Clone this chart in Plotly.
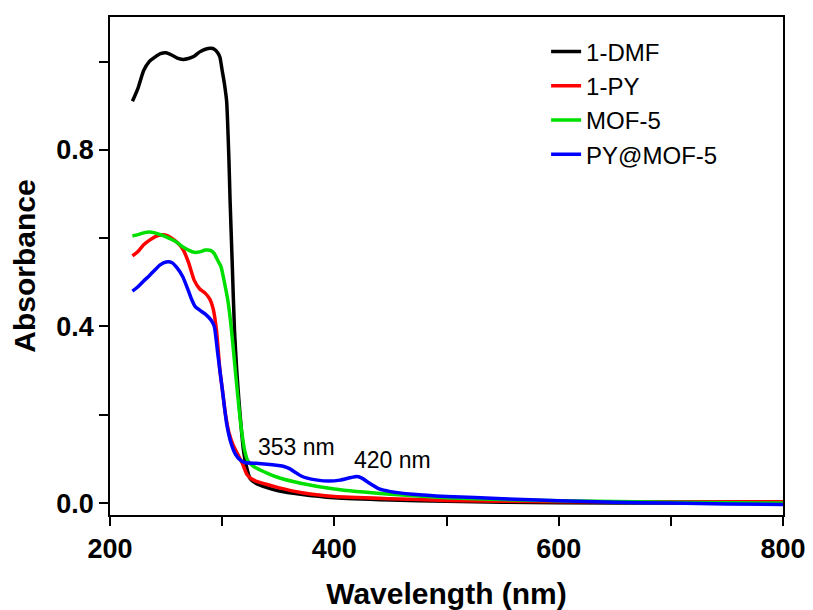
import plotly.graph_objects as go

# ---- data ----
wl_dmf = [220,225,230,235,240,245,250,255,260,265,270,275,280,285,290,293,296,298,300,302,304,306,307,309,311,313,315,317,319,321,325,330,340,350,370,400,450,500,550,600,700,800]
abs_dmf = [0.91,0.94,0.98,1.0,1.01,1.018,1.02,1.015,1.008,1.005,1.007,1.012,1.022,1.028,1.03,1.028,1.02,1.01,0.98,0.95,0.91,0.78,0.69,0.54,0.39,0.30,0.23,0.17,0.12,0.09,0.055,0.045,0.035,0.028,0.02,0.012,0.007,0.004,0.002,0.001,0.0,0.0]

wl_py = [220,225,230,235,240,245,250,255,260,265,270,275,280,285,289,292,295,298,300,303,306,310,314,318,322,326,330,340,350,370,400,450,500,600,700,800]
abs_py = [0.56,0.57,0.585,0.595,0.603,0.607,0.607,0.60,0.59,0.575,0.545,0.505,0.485,0.475,0.462,0.44,0.39,0.30,0.26,0.20,0.16,0.13,0.11,0.09,0.065,0.055,0.05,0.042,0.035,0.024,0.015,0.01,0.006,0.003,0.003,0.003]

wl_mof = [220,225,230,235,240,245,250,255,260,265,270,275,280,285,290,293,296,299,302,305,308,311,314,317,320,323,327,330,340,350,370,400,450,500,550,600,700,800]
abs_mof = [0.605,0.608,0.612,0.614,0.612,0.608,0.603,0.597,0.59,0.58,0.573,0.568,0.569,0.573,0.572,0.565,0.55,0.535,0.50,0.46,0.40,0.32,0.24,0.17,0.12,0.095,0.085,0.08,0.068,0.058,0.045,0.032,0.02,0.012,0.008,0.005,0.002,0.0]

wl_pym = [220,225,230,235,240,245,250,255,260,265,270,273,276,280,285,290,293,296,300,304,308,312,316,320,330,340,350,355,360,365,370,375,385,395,405,415,420,425,430,440,450,470,500,550,600,650,700,750,800]
abs_pym = [0.48,0.49,0.503,0.515,0.528,0.54,0.546,0.545,0.532,0.512,0.48,0.46,0.445,0.437,0.428,0.415,0.40,0.34,0.26,0.18,0.135,0.11,0.098,0.092,0.09,0.088,0.085,0.083,0.078,0.07,0.062,0.057,0.052,0.05,0.052,0.058,0.06,0.056,0.047,0.032,0.026,0.02,0.015,0.01,0.005,0.002,0.0,-0.002,-0.003]

series_names = ["1-DMF", "1-PY", "MOF-5", "PY@MOF-5"]
series_colors = ["#000000", "#ff0000", "#00e000", "#0000ff"]

x_ticks = [200, 300, 400, 500, 600, 700, 800]
x_tick_labels = ["200", "", "400", "", "600", "", "800"]
y_ticks = [0.0, 0.2, 0.4, 0.6, 0.8, 1.0]
y_tick_labels = ["0.0", "", "0.4", "", "0.8", ""]

peak_labels = ["353 nm", "420 nm"]
peak_x = [366, 452]
peak_y = [0.128, 0.098]

FONT = "Liberation Sans, Arial"

fig = go.Figure()
for name, xs, ys, col in zip(series_names, [wl_dmf, wl_py, wl_mof, wl_pym],
                             [abs_dmf, abs_py, abs_mof, abs_pym], series_colors):
    fig.add_trace(go.Scatter(x=xs, y=ys, mode="lines", name=name,
                             line=dict(color=col, width=3.5, shape="spline", smoothing=0.5)))

for t, px, py in zip(peak_labels, peak_x, peak_y):
    fig.add_annotation(x=px, y=py, text=t, showarrow=False,
                       font=dict(family=FONT, size=23, color="#000"))

axis_common = dict(showline=True, linecolor="black", linewidth=1.5, mirror=True,
                   ticks="outside", ticklen=9, tickwidth=1.5, tickcolor="black",
                   showgrid=False, zeroline=False, automargin=False,
                   tickfont=dict(family=FONT, size=27, color="black", weight="bold"))

fig.update_layout(
    width=813, height=610,
    margin=dict(l=110, r=30, t=17, b=95),
    paper_bgcolor="white", plot_bgcolor="white",
    showlegend=True,
    legend=dict(x=0.648, y=0.975, xanchor="left", yanchor="top",
                bgcolor="rgba(0,0,0,0)", borderwidth=0,
                font=dict(family=FONT, size=24, color="black"),
                tracegroupgap=0, itemwidth=30),
    xaxis=dict(range=[200, 800], tickmode="array", tickvals=x_ticks, ticktext=x_tick_labels,
               title=dict(text="Wavelength (nm)", standoff=22,
                          font=dict(family=FONT, size=30, color="black", weight="bold")),
               **axis_common),
    yaxis=dict(range=[-0.027, 1.101], tickmode="array", tickvals=y_ticks, ticktext=y_tick_labels,
               title=dict(text="Absorbance", standoff=12,
                          font=dict(family=FONT, size=30, color="black", weight="bold")),
               **axis_common),
)

fig.write_html("out.html")
